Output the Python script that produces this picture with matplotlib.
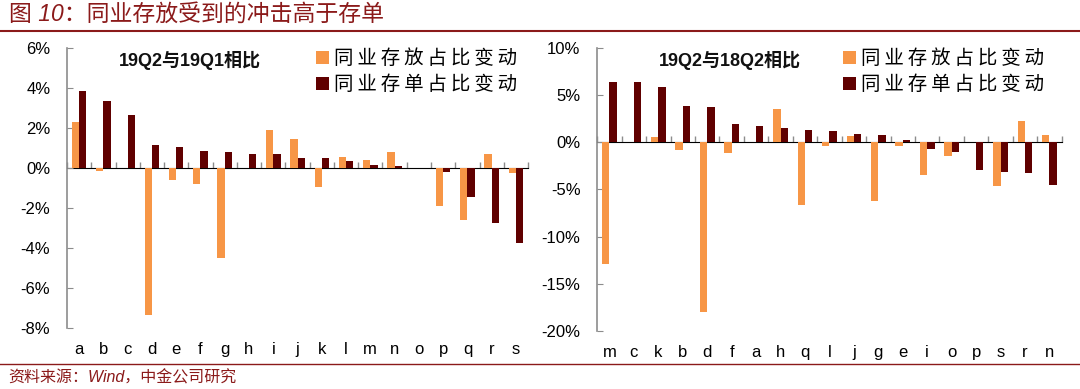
import matplotlib
matplotlib.use("Agg")
import matplotlib.pyplot as plt
import numpy as np
from matplotlib.ticker import FuncFormatter, FixedLocator, NullFormatter

plt.rcParams["font.family"] = ["Liberation Sans", "Noto Sans CJK SC", "DejaVu Sans"]

# 19Q2 vs 19Q1
cats_q = list("abcdefghijklmnopqrs")
interbank_q = [2.3, -0.15, 0.0, -7.35, -0.6, -0.8, -4.5, 0.0, 1.9, 1.42, -0.95,
               0.52, 0.37, 0.81, 0.0, -1.9, -2.6, 0.68, -0.28]
cd_q = [3.82, 3.36, 2.65, 1.13, 1.03, 0.83, 0.79, 0.71, 0.68, 0.48, 0.47,
        0.34, 0.15, 0.1, 0.0, -0.2, -1.48, -2.75, -3.76]

# 19Q2 vs 18Q2
cats_y = list("mckbdfahqljgeiopsrn")
interbank_y = [-12.9, 0.0, 0.6, -0.8, -18.0, -1.18, 0.0, 3.5, -6.6, -0.36,
               0.68, -6.2, -0.4, -3.5, -1.5, 0.0, -4.68, 2.2, 0.82]
cd_y = [6.4, 6.4, 5.85, 3.85, 3.72, 1.93, 1.7, 1.52, 1.25, 1.14, 0.86,
        0.75, 0.2, -0.75, -1.0, -2.96, -3.2, -3.29, -4.57]

ORANGE = "#F79646"
DARK = "#600000"
RED = "#8B1A1A"
GRAY = "#8C8C8C"
LEG = ["同\u2009业\u2009存\u2009放\u2009占\u2009比\u2009变\u2009动",
       "同\u2009业\u2009存\u2009单\u2009占\u2009比\u2009变\u2009动"]

fig = plt.figure(figsize=(10.8, 3.89), dpi=100)


def draw(rect, cats, s1, s2, ylim, step, title, title_xy, leg_x):
    ax = fig.add_axes(rect)
    x = np.arange(len(cats))
    w = 0.3
    b1 = ax.bar(x - w / 2, s1, w, color=ORANGE, zorder=2)
    b2 = ax.bar(x + w / 2, s2, w, color=DARK, zorder=2)
    ax.set_xlim(-0.5, len(cats) - 0.5)
    ax.set_ylim(*ylim)
    ax.set_yticks(np.arange(ylim[0], ylim[1] + step / 2, step))
    ax.yaxis.set_major_formatter(FuncFormatter(lambda v, p: f"{v:.0f}%"))
    ax.set_xticks(x)
    ax.set_xticklabels(cats)
    ax.tick_params(axis="x", length=0, pad=10, labelsize=12)
    ax.tick_params(axis="y", direction="in", length=4, color=GRAY, labelsize=12, pad=12)
    for s in ("top", "right", "bottom"):
        ax.spines[s].set_visible(False)
    ax.spines["left"].set_color(GRAY)
    ax.spines["left"].set_linewidth(1.2)
    # zero line with category boundary ticks
    loc = (0 - ylim[0]) / (ylim[1] - ylim[0])
    sec = ax.secondary_xaxis(loc)
    sec.spines["bottom"].set_color(GRAY)
    sec.spines["bottom"].set_linewidth(1.2)
    sec.xaxis.set_major_locator(FixedLocator(np.arange(-0.5, len(cats), 1.0)))
    sec.xaxis.set_major_formatter(NullFormatter())
    sec.tick_params(axis="x", direction="out", length=4, color=GRAY, width=1.0)
    ax.text(title_xy[0], title_xy[1], title, transform=ax.transAxes, ha="center",
            va="center", fontsize=13, fontweight="bold", color="#111111")
    ax.legend([b1, b2], LEG, loc="upper left", bbox_to_anchor=(leg_x, 0.995),
              frameon=False, fontsize=14, handlelength=0.65, handleheight=0.65,
              handletextpad=0.3, borderpad=0, borderaxespad=0, labelspacing=0.4)
    return ax


draw([0.062, 0.157, 0.427, 0.72], cats_q, interbank_q, cd_q, (-8, 6), 2,
     "19Q2与19Q1相比", (0.267, 0.955), 0.54)
draw([0.553, 0.149, 0.430, 0.728], cats_y, interbank_y, cd_y, (-20, 10), 5,
     "19Q2与18Q2相比", (0.286, 0.956), 0.529)

fig.text(0.008, 0.963, "图 10：同业存放受到的冲击高于存单", fontsize=16.5,
         color=RED, style="italic", va="center", ha="left")
fig.add_artist(plt.Line2D([0, 1], [0.920, 0.920], color=RED, lw=1.5))
fig.add_artist(plt.Line2D([0, 1], [0.064, 0.064], color=RED, lw=1.0))
fig.text(0.008, 0.028, "资料来源：Wind，中金公司研究", fontsize=11.5,
         color=RED, style="italic", va="center", ha="left")

fig.savefig("out.png", dpi=100, facecolor="white")
